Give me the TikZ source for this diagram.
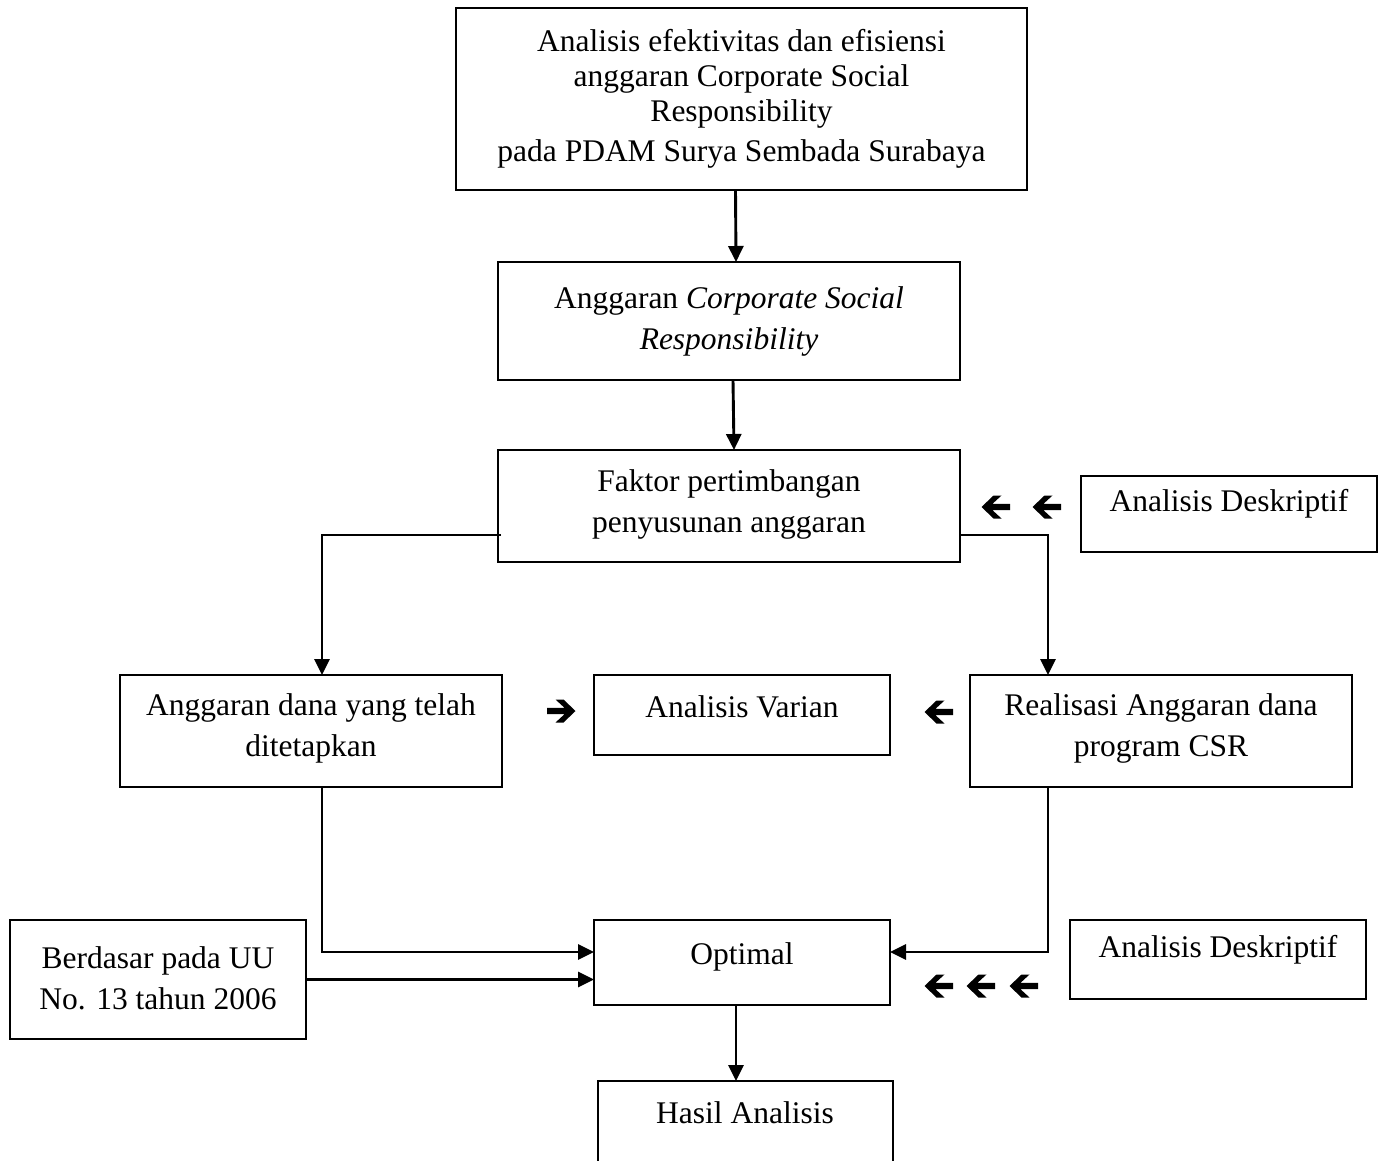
\documentclass[tikz,border=0pt]{standalone}
\usepackage{fontspec}
\setmainfont{Liberation Serif}
\usetikzlibrary{arrows.meta}
\tikzset{
  box/.style={draw, line width=1.8pt, inner sep=0pt, outer sep=0pt},
  txt/.style={align=center, inner sep=0pt, font=\fontsize{31.5}{41}\selectfont},
  arr/.style={-{Triangle[length=16pt,width=15pt]}, line width=2.9pt},
  glyph/.style={fill=black, draw=none},
}
\newcommand{\leftglyph}[1]{\fill[glyph, shift={(#1)}] (-14.5,0) -- (-2.5,-11.5) -- (5.5,-11.5) -- (-3.5,-3.2) -- (14,-3.2) -- (14,3.2) -- (-3.5,3.2) -- (5.5,11.5) -- (-2.5,11.5) -- cycle;}
\newcommand{\rightglyph}[1]{\fill[glyph, shift={(#1)}] (14.5,0) -- (2.5,-11.5) -- (-5.5,-11.5) -- (3.5,-3.2) -- (-14,-3.2) -- (-14,3.2) -- (3.5,3.2) -- (-5.5,11.5) -- (2.5,11.5) -- cycle;}
\begin{document}
\begin{tikzpicture}[x=1pt,y=-1pt]
\useasboundingbox (0,0) rectangle (1379,1160);
\clip (0,0) rectangle (1379,1160);
\fill[white] (0,0) rectangle (1379,1160);

% boxes
\node[box, minimum width=571, minimum height=182] (b1) at (741.5,99) {};
\node[box, minimum width=462, minimum height=118] (b2) at (729,321) {};
\node[box, minimum width=462, minimum height=112] (b3) at (729,506) {};
\node[box, minimum width=296, minimum height=76] (b4) at (1229,514) {};
\node[box, minimum width=382, minimum height=112] (b5) at (311,731) {};
\node[box, minimum width=296, minimum height=80] (b6) at (742,715) {};
\node[box, minimum width=382, minimum height=112] (b7) at (1161,731) {};
\node[box, minimum width=296, minimum height=119] (b8) at (158,979.5) {};
\node[box, minimum width=296, minimum height=85] (b9) at (742,962.5) {};
\node[box, minimum width=296, minimum height=79] (b10) at (1218,959.5) {};
\node[box, minimum width=295, minimum height=160] (b11) at (745.5,1161) {};

% texts
\node[txt, font=\fontsize{31.5}{35}\selectfont] (t1) at (741.5,99) {Analisis efektivitas dan efisiensi\\anggaran Corporate Social\\Responsibility\\[5pt]pada PDAM Surya Sembada Surabaya};
\node[txt] (t2) at (729,321) {Anggaran \textit{Corporate Social}\\\textit{Responsibility}};
\node[txt] (t3) at (729,504) {Faktor pertimbangan\\penyusunan anggaran};
\node[txt] (t4) at (1229,504) {Analisis Deskriptif};
\node[txt] (t5) at (311,728) {Anggaran dana yang telah\\ditetapkan};
\node[txt] (t6) at (742,707) {Analisis Varian};
\node[txt] (t7) at (1161,728) {Realisasi Anggaran dana\\program CSR};
\node[txt] (t8) at (158,978) {Berdasar pada UU\\No. 13 tahun 2006};
\node[txt] (t9) at (742,957) {Optimal};
\node[txt] (t10) at (1218,950) {Analisis Deskriptif};
\node[txt] (t11) at (745,1113) {Hasil Analisis};

% connectors
\draw[arr] ([xshift=-6]b1.south) -- ([xshift=7]b2.north);
\draw[arr] ([xshift=4]b2.south) -- ([xshift=5]b3.north);
\draw[arr] ([xshift=3,yshift=-29]b3.west) -| ([xshift=11]b5.north);
\draw[arr] ([yshift=-29]b3.east) -| ([xshift=-113]b7.north);
\draw[arr] ([xshift=11]b5.south) |- ([yshift=10.5]b9.west);
\draw[arr] (b8.east) -- (b8.east -| b9.west);
\draw[arr] ([xshift=-113]b7.south) |- ([yshift=10.5]b9.east);
\draw[arr] ([xshift=-6]b9.south) -- ([xshift=-9.5]b11.north);

% bold arrow glyphs
\leftglyph{996,507}
\leftglyph{1047,507}
\rightglyph{561,711}
\leftglyph{939,712}
\leftglyph{939,986}
\leftglyph{981,986}
\leftglyph{1024,986}
\end{tikzpicture}
\end{document}
